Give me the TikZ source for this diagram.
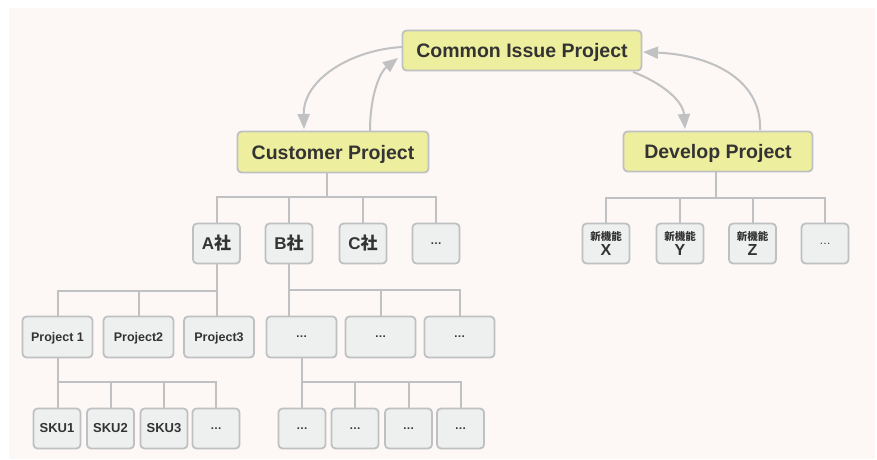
\documentclass[tikz,border=0pt]{standalone}
\usepackage{fontspec}
\setmainfont{Liberation Sans}
\newfontfamily\cjk{Noto Sans CJK JP}
\usetikzlibrary{arrows.meta}
\definecolor{bgc}{RGB}{253,247,245}
\definecolor{yel}{RGB}{238,239,158}
\definecolor{grayf}{RGB}{238,240,240}
\definecolor{bordc}{RGB}{190,192,194}
\definecolor{linec}{RGB}{192,193,195}
\definecolor{txt}{RGB}{51,51,51}
\newcommand{\ellip}{{\fontsize{11.5}{12}\selectfont …}}
\newcommand{\featlabel}[1]{{\cjk\bfseries\fontsize{10.5}{15.5}\selectfont 新機能}\\{\bfseries\fontsize{16}{15.5}\selectfont #1}}
\begin{document}
\begin{tikzpicture}[x=1pt,y=-1pt,
  box/.style={draw=bordc, line width=1.8pt, rounded corners=4pt, fill=grayf, text=txt, inner sep=0pt},
  ybox/.style={box, fill=yel, font=\bfseries\fontsize{19.5}{22}\selectfont, text height=14pt, text depth=0pt},
  lvtwo/.style={box, minimum width=47pt, minimum height=40pt, font=\bfseries\fontsize{17}{20}\selectfont, text height=12.5pt, text depth=0pt},
  lvthree/.style={box, minimum width=70pt, minimum height=41pt, font=\bfseries\fontsize{12.5}{14}\selectfont, text height=9pt, text depth=0pt},
  lvfour/.style={box, minimum width=47pt, minimum height=40pt, font=\bfseries\fontsize{13}{15}\selectfont},
  feat/.style={box, minimum width=47pt, minimum height=40pt, align=center, font=\fontsize{10.5}{15.5}\selectfont},
  tree/.style={draw=linec, line width=2pt},
  arr/.style={draw=linec, line width=2pt, -{Triangle[length=15pt,width=12pt]}}]
\useasboundingbox (0,0) rectangle (877,459);
\fill[bgc] (9,8) rectangle (875,459);

% top level
\node[ybox, minimum width=239pt, minimum height=40pt] (common) at (522,50.5) {Common Issue Project};
\node[ybox, minimum width=191pt, minimum height=41pt] (cust) at (333,152) {Customer Project};
\node[ybox, minimum width=189pt, minimum height=40pt] (dev) at (718,151.5) {Develop Project};

% level 2
\node[lvtwo] (A) at (216.5,243.5) {A{\cjk\bfseries 社}};
\node[lvtwo] (B) at (289,243.5) {B{\cjk\bfseries 社}};
\node[lvtwo] (C) at (363,243.5) {C{\cjk\bfseries 社}};
\node[lvtwo, text height=, text depth=] (D1) at (436,243.5) {\ellip};

\node[feat] (X) at (606,243.5) {\featlabel{X}};
\node[feat] (Y) at (680,243.5) {\featlabel{Y}};
\node[feat] (Z) at (752.5,243.5) {\featlabel{Z}};
\node[feat] (D2) at (825,243.5) {\ellip};

% level 3
\node[lvthree] (P1) at (57.5,337) {Project 1};
\node[lvthree] (P2) at (138.5,337) {Project2};
\node[lvthree] (P3) at (219,337) {Project3};
\node[lvthree, text height=, text depth=] (B1) at (301.5,337) {\ellip};
\node[lvthree, text height=, text depth=] (B2) at (380.5,337) {\ellip};
\node[lvthree, text height=, text depth=] (B3) at (459.5,337) {\ellip};

% level 4
\node[lvfour] (S1) at (57,428.5) {SKU1};
\node[lvfour] (S2) at (110.5,428.5) {SKU2};
\node[lvfour] (S3) at (164,428.5) {SKU3};
\node[lvfour] (S4) at (216,428.5) {\ellip};
\node[lvfour] (E1) at (302,428.5) {\ellip};
\node[lvfour] (E2) at (355,428.5) {\ellip};
\node[lvfour] (E3) at (408.5,428.5) {\ellip};
\node[lvfour] (E4) at (460.5,428.5) {\ellip};

% customer tree
\coordinate (cb) at (326.7,196.7);
\draw[tree] (cust.south -| cb) -- (cb);
\draw[tree] (A.north) |- (cb) -- (D1.north |- cb) -- (D1.north);
\draw[tree] (B.north) -- (B.north |- cb);
\draw[tree] (C.north) -- (C.north |- cb);

% A tree
\coordinate (ab) at (217,290.7);
\draw[tree] (A.south) -- (A.south |- P3.north);
\draw[tree] (P1.north) |- (A.south |- ab);
\draw[tree] (P2.north) -- (P2.north |- ab);

% B tree
\coordinate (bb) at (289,290);
\draw[tree] (B.south) -- (B.south |- B1.north);
\draw[tree] (B.south |- bb) -| (B3.north);
\draw[tree] (B2.north) -- (B2.north |- bb);

% P1 tree
\coordinate (pb) at (57.7,382);
\draw[tree] (P1.south) -- (P1.south |- S1.north);
\draw[tree] (P1.south |- pb) -| (S4.north);
\draw[tree] (S2.north) -- (S2.north |- pb);
\draw[tree] (S3.north) -- (S3.north |- pb);

% B1 tree
\draw[tree] (B1.south) -- (B1.south |- E1.north);
\draw[tree] (B1.south |- pb) -| (E4.north);
\draw[tree] (E2.north) -- (E2.north |- pb);
\draw[tree] (E3.north) -- (E3.north |- pb);

% develop tree
\coordinate (db) at (715.7,197.7);
\draw[tree] (dev.south -| db) -- (db);
\draw[tree] (X.north) |- (db) -- (D2.north |- db) -- (D2.north);
\draw[tree] (Y.north) -- (Y.north |- db);
\draw[tree] (Z.north) -- (Z.north |- db);

% arrows
\coordinate (a1s) at (402,47);
\coordinate (a1e) at (304,129);
\draw[arr] (a1s) .. controls (350,50) and (303,80) .. (a1e);
\coordinate (a2s) at (370,131);
\coordinate (a2e) at (398,58);
\draw[arr] (a2s) .. controls (370,95) and (380,72) .. (a2e);
\coordinate (a3s) at (633,72);
\coordinate (a3e) at (685,129);
\draw[arr] (a3s) .. controls (660,82) and (683,100) .. (a3e);
\coordinate (a4s) at (760,130);
\coordinate (a4e) at (643,52);
\draw[arr] (a4s) .. controls (762,80) and (712,55) .. (a4e);
\end{tikzpicture}
\end{document}
